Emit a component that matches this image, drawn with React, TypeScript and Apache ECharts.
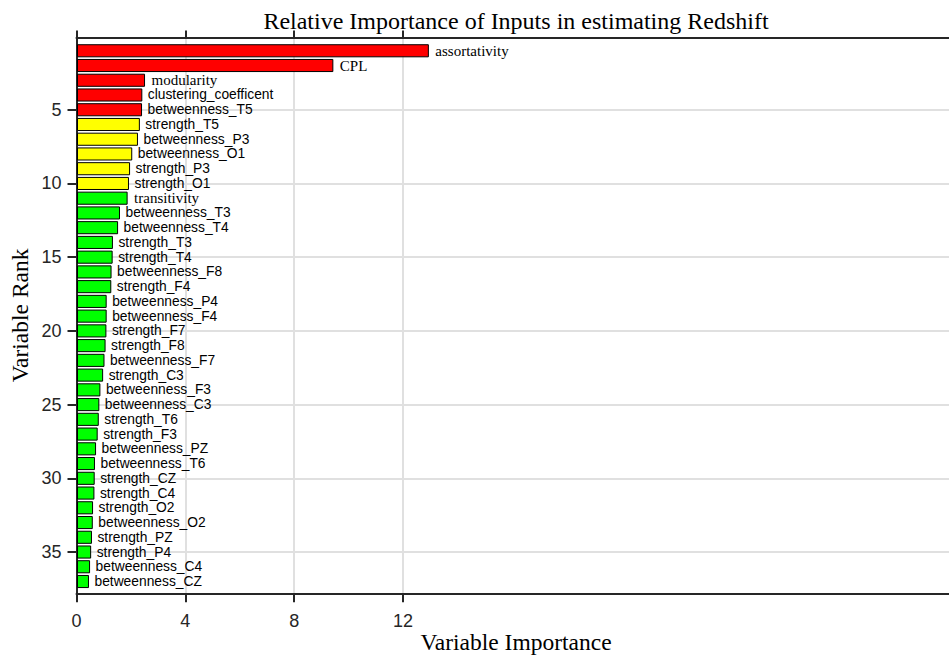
import React, { useEffect, useRef } from "react";
import * as echarts from "echarts";

// Inputs ranked by their importance for the redshift estimate (rank 1 = most important)
const variables = [
  "assortativity",
  "CPL",
  "modularity",
  "clustering_coefficent",
  "betweenness_T5",
  "strength_T5",
  "betweenness_P3",
  "betweenness_O1",
  "strength_P3",
  "strength_O1",
  "transitivity",
  "betweenness_T3",
  "betweenness_T4",
  "strength_T3",
  "strength_T4",
  "betweenness_F8",
  "strength_F4",
  "betweenness_P4",
  "betweenness_F4",
  "strength_F7",
  "strength_F8",
  "betweenness_F7",
  "strength_C3",
  "betweenness_F3",
  "betweenness_C3",
  "strength_T6",
  "strength_F3",
  "betweenness_PZ",
  "betweenness_T6",
  "strength_CZ",
  "strength_C4",
  "strength_O2",
  "betweenness_O2",
  "strength_PZ",
  "strength_P4",
  "betweenness_C4",
  "betweenness_CZ",
];

const importance = [
  12.93, 9.42, 2.5, 2.4, 2.39, 2.31, 2.24, 2.03, 1.95, 1.91, 1.86, 1.58, 1.51,
  1.32, 1.31, 1.27, 1.26, 1.09, 1.09, 1.08, 1.05, 1.01, 0.96, 0.86, 0.82, 0.8,
  0.76, 0.7, 0.66, 0.65, 0.64, 0.59, 0.58, 0.55, 0.52, 0.48, 0.44,
];

// how many ranked inputs fall in each colour tier (top, middle, rest)
const tierSizes = [5, 5, 27];

const importanceTicks = [0, 4, 8, 12];
const rankTicks = [5, 10, 15, 20, 25, 30, 35];

const TIER_COLORS = ["#ff0000", "#ffff00", "#00ff00"];
const AXIS_COLOR = "#262626";
const GRID_COLOR = "#e0e0e0";
const SANS = "'Liberation Sans', Arial, Helvetica, sans-serif";
const SERIF = "'Liberation Serif', 'Times New Roman', serif";
const BAR_FRACTION = 0.82;

function tierColor(index: number): string {
  let acc = 0;
  for (let t = 0; t < tierSizes.length; t++) {
    acc += tierSizes[t];
    if (index < acc) return TIER_COLORS[t];
  }
  return TIER_COLORS[TIER_COLORS.length - 1];
}

export default function App() {
  const ref = useRef<HTMLDivElement>(null);

  useEffect(() => {
    if (!ref.current) return;
    const chart = echarts.init(ref.current, undefined, { renderer: "svg" });

    const data = importance.map((v, i) => [v, i + 1]);

    const xAxisCommon = {
      type: "value" as const,
      min: 0,
      max: 32.3,
      axisLine: { show: true, onZero: false, lineStyle: { color: AXIS_COLOR, width: 2 } },
    };

    chart.setOption({
      animation: false,
      backgroundColor: "#ffffff",
      grid: {
        left: 76.5,
        right: -6.5,
        top: 37.5,
        bottom: 62.7,
        containLabel: false,
        outerBoundsMode: "none",
      },
      graphic: [
        {
          type: "text",
          x: 516,
          y: 21,
          z: 10,
          style: {
            text: "Relative Importance of Inputs in estimating Redshift",
            fill: "#000",
            fontFamily: SERIF,
            fontSize: 24,
            align: "center",
            verticalAlign: "middle",
            textAlign: "center",
            textVerticalAlign: "middle",
          },
        },
      ],
      xAxis: [
        {
          ...xAxisCommon,
          position: "bottom",
          axisTick: {
            show: true,
            inside: false,
            length: 9,
            customValues: importanceTicks,
            lineStyle: { color: AXIS_COLOR, width: 2 },
          },
          axisLabel: {
            show: true,
            customValues: importanceTicks,
            margin: 19,
            fontFamily: SANS,
            fontSize: 18,
            color: AXIS_COLOR,
          },
          splitLine: { show: true, lineStyle: { color: GRID_COLOR, width: 2 } },
          name: "Variable Importance",
          nameLocation: "middle",
          nameGap: 37,
          nameMoveOverlap: false,
          nameTextStyle: { fontFamily: SERIF, fontSize: 23.5, color: "#000" },
        },
        {
          ...xAxisCommon,
          position: "top",
          axisTick: {
            show: true,
            inside: false,
            length: 7,
            customValues: importanceTicks,
            lineStyle: { color: AXIS_COLOR, width: 2 },
          },
          axisLabel: { show: false },
          splitLine: { show: false },
        },
      ],
      yAxis: {
        type: "value",
        inverse: true,
        min: 0.1,
        max: 37.8,
        axisLine: { show: true, onZero: false, lineStyle: { color: AXIS_COLOR, width: 2 } },
        axisTick: {
          show: true,
          inside: false,
          length: 9,
          customValues: rankTicks,
          lineStyle: { color: AXIS_COLOR, width: 2 },
        },
        axisLabel: {
          show: true,
          customValues: rankTicks,
          margin: 15,
          fontFamily: SANS,
          fontSize: 18,
          color: AXIS_COLOR,
        },
        splitLine: { show: true, lineStyle: { color: GRID_COLOR, width: 2 } },
        name: "Variable Rank",
        nameLocation: "middle",
        nameGap: 45,
        nameRotate: 90,
        nameMoveOverlap: false,
        nameTextStyle: { fontFamily: SERIF, fontSize: 23.5, color: "#000" },
      },
      series: [
        {
          type: "custom",
          xAxisIndex: 0,
          yAxisIndex: 0,
          data,
          clip: false,
          renderItem: (params: any, api: any) => {
            const value = api.value(0) as number;
            const rank = api.value(1) as number;
            const start = api.coord([0, rank]);
            const end = api.coord([value, rank]);
            const h = Math.abs(api.size([0, BAR_FRACTION])[1]);
            const name = variables[params.dataIndex];
            const serif = name.indexOf("_") < 0;
            return {
              type: "group",
              children: [
                {
                  type: "rect",
                  shape: {
                    x: start[0] + 1,
                    y: start[1] - h / 2,
                    width: end[0] - start[0] - 1,
                    height: h,
                  },
                  style: { fill: tierColor(params.dataIndex), stroke: "#000", lineWidth: 1 },
                },
                {
                  type: "text",
                  x: end[0] + (serif ? 7 : 6),
                  y: end[1],
                  style: {
                    text: name,
                    fill: "#000",
                    fontFamily: serif ? SERIF : SANS,
                    fontSize: serif ? 15 : 13.8,
                    align: "left",
                    verticalAlign: "middle",
                    textAlign: "left",
                    textVerticalAlign: "middle",
                  },
                },
              ],
            };
          },
        },
      ],
    });

    return () => chart.dispose();
  }, []);

  return (
    <div
      ref={ref}
      style={{ position: "absolute", left: 0, top: 0, width: 949, height: 656 }}
    />
  );
}
